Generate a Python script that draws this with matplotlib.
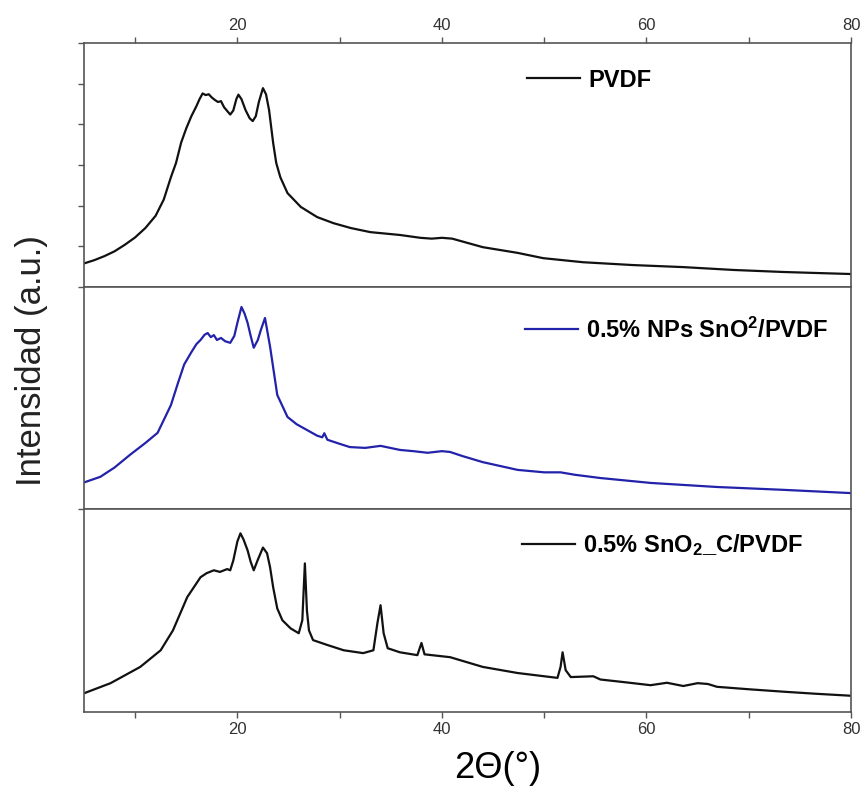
import matplotlib
matplotlib.use("Agg")
from matplotlib import pyplot as plt
from matplotlib.ticker import MultipleLocator

plt.rcParams['font.family'] = ['Liberation Sans', 'DejaVu Sans']
plt.rcParams['mathtext.fontset'] = 'custom'
plt.rcParams['mathtext.rm'] = 'Liberation Sans'
plt.rcParams['mathtext.bf'] = 'Liberation Sans:bold'
plt.rcParams['mathtext.default'] = 'bf'

# PVDF
pvdf_x = [5.0, 6.0, 7.0, 8.0, 9.0, 10.0, 11.0, 12.0, 12.8, 13.5, 14.0, 14.5, 15.0, 15.5,
          16.0, 16.3, 16.6, 16.9, 17.2, 17.5, 17.8, 18.1, 18.4, 18.7, 19.0, 19.3, 19.6,
          19.9, 20.1, 20.4, 20.8, 21.2, 21.5, 21.8, 22.1, 22.5, 22.8, 23.1, 23.5, 23.8,
          24.2, 24.9, 26.2, 27.8, 29.4, 31.1, 33.0, 35.9, 37.9, 39.0, 40.0, 41.0, 42.0,
          44.0, 47.4, 49.9, 53.8, 58.7, 63.6, 68.5, 73.4, 76.0, 80.0]
pvdf_y = [0.58, 0.66, 0.76, 0.88, 1.04, 1.22, 1.45, 1.75, 2.15, 2.70, 3.05, 3.55, 3.90, 4.20,
          4.45, 4.62, 4.76, 4.72, 4.74, 4.66, 4.60, 4.55, 4.57, 4.42, 4.33, 4.24, 4.34,
          4.62, 4.73, 4.62, 4.35, 4.15, 4.08, 4.20, 4.55, 4.89, 4.74, 4.35, 3.54, 3.05,
          2.70, 2.31, 1.97, 1.72, 1.57, 1.45, 1.35, 1.28, 1.21, 1.19, 1.21, 1.19, 1.12,
          0.98, 0.84, 0.71, 0.61, 0.54, 0.49, 0.42, 0.37, 0.35, 0.32]

# 0.5% NPs SnO2/PVDF
nps_x = [5.1, 6.6, 8.0, 9.5, 11.0, 12.2, 13.5, 14.2, 14.8, 15.5, 16.0, 16.4, 16.8, 17.1,
         17.4, 17.7, 18.0, 18.4, 18.8, 19.3, 19.7, 20.0, 20.4, 20.7, 21.0, 21.3, 21.6,
         22.0, 22.3, 22.7, 23.2, 23.9, 24.9, 25.8, 26.8, 27.8, 28.3, 28.5, 28.8, 30.0,
         31.0, 32.5, 34.0, 35.9, 37.2, 38.6, 40.0, 40.8, 42.0, 44.0, 47.4, 50.0, 51.6,
         53.0, 55.5, 60.4, 66.9, 73.4, 80.0]
nps_y = [0.66, 0.79, 1.02, 1.33, 1.62, 1.87, 2.55, 3.10, 3.55, 3.85, 4.05, 4.15, 4.28, 4.32,
         4.22, 4.27, 4.15, 4.20, 4.12, 4.08, 4.25, 4.57, 4.96, 4.80, 4.57, 4.25, 3.96,
         4.15, 4.40, 4.69, 3.98, 2.80, 2.26, 2.08, 1.94, 1.80, 1.76, 1.86, 1.70, 1.60,
         1.52, 1.50, 1.55, 1.45, 1.42, 1.38, 1.42, 1.40, 1.30, 1.15, 0.96, 0.90, 0.90,
         0.84, 0.76, 0.64, 0.54, 0.47, 0.39]

# 0.5% SnO2_C/PVDF
snc_x = [5.1, 7.6, 10.5, 12.5, 13.7, 15.1, 16.4, 17.0, 17.7, 18.3, 19.0, 19.3, 19.6, 20.0,
         20.3, 20.6, 21.0, 21.3, 21.6, 22.0, 22.5, 22.9, 23.2, 23.5, 23.9, 24.4, 25.2,
         26.0, 26.35, 26.6, 26.8, 27.0, 27.4, 28.8, 30.4, 32.3, 33.3, 33.7, 34.0, 34.3,
         34.7, 35.9, 37.6, 38.0, 38.3, 40.8, 44.0, 47.4, 51.3, 51.6, 51.8, 52.1, 52.6,
         54.8, 55.5, 58.0, 60.4, 62.0, 63.6, 65.0, 66.0, 66.9, 70.0, 73.4, 76.5, 80.0]
snc_y = [0.47, 0.71, 1.11, 1.52, 2.01, 2.83, 3.32, 3.42, 3.49, 3.45, 3.52, 3.49, 3.73, 4.20,
         4.40, 4.25, 3.98, 3.70, 3.49, 3.75, 4.05, 3.91, 3.56, 3.07, 2.55, 2.26, 2.06,
         1.94, 2.26, 3.66, 2.50, 2.01, 1.77, 1.65, 1.52, 1.45, 1.52, 2.20, 2.63, 1.94,
         1.57, 1.47, 1.40, 1.70, 1.42, 1.35, 1.11, 0.96, 0.84, 1.11, 1.47, 1.03, 0.86,
         0.88, 0.80, 0.73, 0.66, 0.72, 0.64, 0.71, 0.69, 0.62, 0.56, 0.50, 0.45, 0.40]

series = [
    (pvdf_x, pvdf_y, '#111111', 'PVDF', 6.0, 0.578, 0.848),
    (nps_x, nps_y, '#2222aa', '0.5% NPs SnO$^2$/PVDF', 5.45, 0.575, 0.806),
    (snc_x, snc_y, '#111111', '0.5% SnO$_2$_C/PVDF', 5.0, 0.571, 0.823),
]

fig = plt.figure(figsize=(8.63, 7.89), dpi=100)
rects = [
    [0.0973, 0.6362, 0.8888, 0.3093],
    [0.0973, 0.3549, 0.8888, 0.2813],
    [0.0973, 0.0976, 0.8888, 0.2573],
]
axes = []
for i, (xs, ys, col, lab, ytop, lx, ly) in enumerate(series):
    ax = fig.add_axes(rects[i])
    ax.plot(xs, ys, color=col, lw=1.6, label=lab)
    ax.set_xlim(5, 80)
    ax.set_ylim(0, ytop)
    for s in ax.spines.values():
        s.set_color('#555555')
        s.set_linewidth(1.2)
    ax.xaxis.set_major_locator(MultipleLocator(20))
    ax.xaxis.set_minor_locator(MultipleLocator(10))
    ax.tick_params(which='both', direction='out', length=4, width=1, color='#555555',
                   labelsize=12, labelcolor='#333333')
    ax.tick_params(axis='y', labelleft=False)
    ax.legend(loc='center left', bbox_to_anchor=(lx, ly), frameon=False,
              handlelength=2.25, handletextpad=0.35, borderpad=0, borderaxespad=0,
              prop={'weight': 'bold', 'size': 17})
    axes.append(ax)

top, mid, bot = axes
top.xaxis.set_ticks_position('top')
top.set_yticks(range(0, 7))
top.set_xticks([20, 40, 60, 80])
mid.tick_params(axis='x', which='both', bottom=False, top=False, labelbottom=False)
mid.set_yticks([0])
bot.set_yticks([])
bot.set_xticks([20, 40, 60, 80])
bot.set_xlabel('2\u0398(\u00b0)', fontsize=26)
bot.xaxis.set_label_coords(0.54, -0.19)

fig.text(0.037, 0.543, 'Intensidad (a.u.)', rotation=90, fontsize=25,
         ha='center', va='center', color='#222222')

fig.savefig('out.png', dpi=100)
